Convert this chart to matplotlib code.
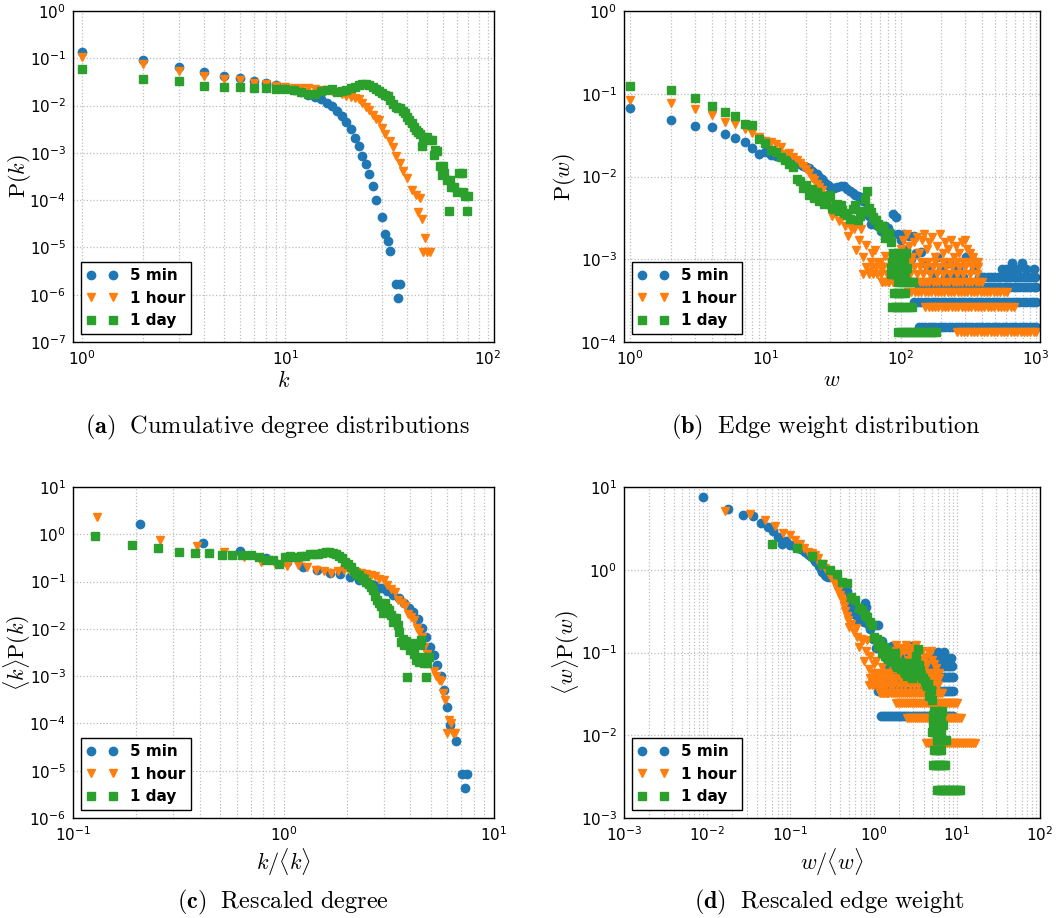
import matplotlib.pyplot as plt

plt.rcParams['mathtext.fontset'] = 'cm'

labels = ['5 min', '1 hour', '1 day']
colors = ['#1f77b4', '#ff7f0e', '#2ca02c']
markers = ['o', 'v', 's']

# ---------------- (a) cumulative degree distributions ----------------
k_5min = [1, 2, 3, 4, 5, 6, 7, 8, 9, 10, 11, 12, 13, 14, 15, 16, 17, 18, 19, 20,
          21, 22, 23, 24, 25, 26, 27, 28, 30, 31, 32, 33, 35, 36, 37]
pk_5min = [0.136, 0.091, 0.066, 0.051, 0.042, 0.038, 0.033, 0.030, 0.027, 0.024,
           0.021, 0.019, 0.017, 0.0153, 0.0141, 0.0114, 0.0098, 0.0078, 0.0060, 0.0046,
           0.0032, 0.0021, 0.0014, 0.00087, 0.00057, 0.00035, 0.0002, 0.0001, 4.5e-5, 1.9e-5,
           1.4e-5, 8.6e-6, 1.7e-6, 8.6e-7, 1.7e-6]

k_1hour = [1, 2, 3, 4, 5, 6, 7, 8, 9, 10, 11, 12, 13, 14, 15, 16, 17, 18, 19, 20,
           21, 22, 23, 24, 25, 26, 27, 28, 29, 30, 31, 33, 34, 35, 37, 38, 40, 42, 44, 46,
           45, 47, 49, 48, 50, 52]
pk_1hour = [0.107, 0.074, 0.054, 0.042, 0.037, 0.034, 0.030, 0.028, 0.026, 0.025,
            0.024, 0.023, 0.023, 0.022, 0.021, 0.021, 0.020, 0.019, 0.018, 0.0158,
            0.0150, 0.0145, 0.0135, 0.0115, 0.0094, 0.0080, 0.0062, 0.0051, 0.0049, 0.0033,
            0.0025, 0.0018, 0.0013, 0.00085, 0.0006, 0.00042, 0.00029, 0.00016, 0.00013, 0.00011,
            5.7e-5, 4e-5, 1.6e-5, 8e-6, 8e-6, 8e-6]

k_1day = [1, 2, 3, 4, 5, 6, 7, 8, 9, 10, 11, 12, 13, 14, 15, 16, 17, 18, 19, 20,
          21, 22, 23, 24, 25, 26, 27, 28, 29, 30, 31, 32, 33, 34, 35, 36, 37, 38, 39, 40,
          41, 42, 43, 44, 45, 46, 47, 48, 50, 51, 53, 54, 55, 56, 58, 59, 60, 61, 63, 64,
          65, 66, 68, 70, 72, 74, 75, 77, 79, 80]
pk_1day = [0.058, 0.037, 0.033, 0.026, 0.025, 0.0245, 0.023, 0.0235, 0.022, 0.022,
           0.0215, 0.0195, 0.018, 0.018, 0.0205, 0.021, 0.022, 0.0195, 0.0205, 0.021,
           0.024, 0.025, 0.027, 0.028, 0.028, 0.027, 0.025, 0.022, 0.020, 0.0187,
           0.017, 0.016, 0.013, 0.011, 0.0095, 0.0090, 0.0087, 0.0075, 0.0068, 0.0058,
           0.0049, 0.0042, 0.0036, 0.0031, 0.0028, 0.0025, 0.0014, 0.0022, 0.0022, 0.0019,
           0.0019, 0.0009, 0.00115, 0.0011, 0.00053, 0.00034, 0.00053, 0.00037, 0.00027, 6e-5,
           0.00027, 0.00019, 0.00019, 0.00015, 0.00037, 0.00037, 0.00015, 0.00012, 6e-5, 0.00012]

# ---------------- (c) rescaled degree ----------------
kmean = [4.83, 7.7, 15.75]
kc_5min = [1, 2, 3, 4, 5, 6, 7, 8, 9, 10, 11, 12, 13, 14, 15, 16, 17, 18, 19, 20,
           21, 22, 23, 24, 25, 26, 27, 28, 29, 30, 32, 34, 35, 36]
kpk_5min = [1.63, 0.67, 0.45, 0.32, 0.26, 0.20, 0.18, 0.153, 0.144, 0.123,
            0.107, 0.094, 0.084, 0.072, 0.062, 0.052, 0.044, 0.035, 0.028, 0.023,
            0.016, 0.0105, 0.0068, 0.0042, 0.0028, 0.0017, 0.001, 0.00051, 0.00022, 9.3e-5,
            4.3e-5, 8.5e-6, 4.3e-6, 8.5e-6]

kc_1hour = [1, 2, 3, 4, 5, 6, 7, 8, 9, 10, 11, 12, 13, 14, 15, 16, 17, 18, 19, 20,
            21, 22, 23, 24, 25, 26, 27, 28, 29, 30, 31, 32, 33, 34, 35, 36, 37, 38, 40, 41,
            42, 43, 44, 45, 46, 47, 48, 49, 50]
kpk_1hour = [2.33, 0.77, 0.57, 0.43, 0.33, 0.26, 0.24, 0.21, 0.22, 0.20,
             0.18, 0.17, 0.153, 0.17, 0.175, 0.165, 0.16, 0.155, 0.148, 0.14,
             0.13, 0.116, 0.11, 0.084, 0.07, 0.061, 0.041, 0.036, 0.03, 0.021,
             0.018, 0.0155, 0.0102, 0.0085, 0.0068, 0.0042, 0.003, 0.0022, 0.00126, 0.001,
             0.00083, 0.0008, 0.00045, 0.00032, 6.3e-5, 0.00012, 0.0001, 6.3e-5, 6.3e-5]

kc_1day = [2, 3, 4, 5, 6, 7, 8, 9, 10, 11, 12, 13, 14, 15, 16, 17, 18, 19, 20, 21,
           22, 23, 24, 25, 26, 27, 28, 29, 30, 31, 32, 33, 34, 35, 36, 37, 38, 39, 40, 41,
           42, 43, 44, 45, 46, 47, 48, 49, 50, 51, 52, 53, 54, 55, 56, 57, 58, 59, 60, 61,
           62, 63, 64, 65, 66, 67, 68, 69, 70, 71, 72, 73, 74, 75, 76, 77]
kpk_1day = [0.92, 0.59, 0.52, 0.42, 0.40, 0.40, 0.36, 0.36, 0.36, 0.36,
            0.33, 0.29, 0.28, 0.24, 0.33, 0.35, 0.33, 0.35, 0.34, 0.39,
            0.38, 0.39, 0.41, 0.42, 0.42, 0.41, 0.38, 0.35, 0.31, 0.26,
            0.23, 0.20, 0.17, 0.148, 0.14, 0.12, 0.111, 0.10, 0.091, 0.078,
            0.066, 0.05, 0.041, 0.035, 0.030, 0.022, 0.035, 0.027, 0.025, 0.02,
            0.014, 0.0166, 0.017, 0.012, 0.0087, 0.0054, 0.006, 0.0046, 0.0055, 0.00098,
            0.0045, 0.0036, 0.005, 0.0036, 0.003, 0.0022, 0.0025, 0.002, 0.0045, 0.0058,
            0.0024, 0.0019, 0.0025, 0.00098, 0.0019, 0.0025]

# ---------------- (b) edge weight distribution ----------------
# head: weights with directly read probabilities
w_5min = [1, 2, 3, 4, 5, 6, 7, 8, 9, 10, 11, 12, 13, 14, 15, 16, 17, 18, 19, 20,
          21, 22, 23, 24, 25, 26, 27, 28, 29, 30, 32, 34, 36, 38, 40, 42, 44, 46, 48, 50,
          53, 56, 58, 60, 63, 66, 69, 72, 76, 80, 85, 88, 92, 96, 100, 105, 110, 115, 120, 125, 130]
pw_5min = [0.068, 0.048, 0.041, 0.040, 0.033, 0.029, 0.026, 0.022, 0.0185, 0.020,
           0.018, 0.0178, 0.017, 0.0165, 0.016, 0.0155, 0.0145, 0.014, 0.0135, 0.013,
           0.0125, 0.0115, 0.011, 0.0107, 0.010, 0.0092, 0.0085, 0.0081, 0.0078, 0.0075,
           0.0072, 0.0074, 0.0077, 0.0077, 0.0070, 0.0066, 0.0064, 0.0060, 0.0058, 0.0056,
           0.0050, 0.0040, 0.0033, 0.0027, 0.0030, 0.0026, 0.0026, 0.0022, 0.0025, 0.0024,
           0.0021, 0.0035, 0.0032, 0.0020, 0.0017, 0.0020, 0.0013, 0.0019, 0.0010, 0.0019, 0.0012]

w_1hour = [1, 2, 3, 4, 5, 6, 7, 8, 9, 10, 11, 12, 13, 14, 15, 16, 17, 18, 19, 20,
           21, 22, 23, 24, 25, 26, 27, 28, 29, 30, 31, 33, 35, 37, 39, 41, 43, 45, 47, 49,
           51, 53, 55, 58, 61, 65, 68, 70, 73, 76, 80, 84, 88, 92, 96]
pw_1hour = [0.085, 0.077, 0.065, 0.056, 0.046, 0.043, 0.037, 0.034, 0.030, 0.027,
            0.026, 0.0245, 0.023, 0.0186, 0.019, 0.017, 0.016, 0.0145, 0.0135, 0.0123,
            0.011, 0.0095, 0.0090, 0.0081, 0.0075, 0.0068, 0.0060, 0.0052, 0.0045, 0.0040,
            0.0033, 0.0036, 0.0029, 0.0032, 0.0025, 0.0019, 0.0024, 0.0023, 0.0013, 0.0017,
            0.0023, 0.00105, 0.0015, 0.0007, 0.0012, 0.0013, 0.0009, 0.00083, 0.00053, 0.0011,
            0.00053, 0.00093, 0.00053, 0.00053, 0.0012]

w_1day = [1, 2, 3, 4, 5, 6, 7, 8, 9, 10, 11, 12, 13, 14, 15, 16, 17, 18, 19, 20,
          21, 22, 23, 24, 25, 26, 27, 28, 29, 30, 31, 32, 33, 34, 35, 36, 37, 38, 40, 42,
          44, 46, 48, 50, 52, 54, 56, 58, 60, 62, 64, 66, 68, 70, 72, 74, 76, 78, 80, 82, 84]
pw_1day = [0.123, 0.110, 0.089, 0.071, 0.060, 0.054, 0.043, 0.042, 0.028, 0.0257,
           0.021, 0.0195, 0.017, 0.016, 0.014, 0.0129, 0.0093, 0.0088, 0.0072, 0.0080,
           0.0060, 0.0070, 0.0055, 0.0065, 0.0050, 0.0058, 0.0046, 0.0052, 0.0056, 0.0059,
           0.0042, 0.0040, 0.0044, 0.0046, 0.0038, 0.0045, 0.0039, 0.0036, 0.0034, 0.0031,
           0.0040, 0.0045, 0.0030, 0.0033, 0.0038, 0.0054, 0.0067, 0.0042, 0.0037, 0.0032,
           0.0030, 0.0030, 0.0027, 0.0025, 0.0024, 0.0025, 0.0018, 0.0020, 0.0021, 0.0021, 0.0016]

# tail: weights with small edge counts, P = count / number of edges
n_edges = [6580, 7520, 7580]

tail_w_5min = [136, 144, 152, 161, 170, 180, 191, 202, 214, 227, 240, 254, 269, 285, 302, 320,
               339, 359, 380, 402, 426, 451, 478, 506, 536, 568, 601, 637, 675, 715, 757, 802,
               849, 899, 952, 998,
               126, 134, 142, 151, 160, 169, 179, 190, 201, 213, 226, 239, 253, 268, 284, 301,
               319, 338, 358, 379, 401, 425, 450, 477, 505, 535, 566, 600, 635, 673, 712, 754,
               799, 846, 896, 949, 997,
               137, 145, 154, 163, 173, 183, 194, 205, 217, 230, 244, 258, 273, 289, 306, 324,
               343, 363, 385, 408, 432, 457, 484, 513, 543, 575, 609, 645, 683, 724, 766, 811,
               859, 910, 963, 999,
               392, 415, 440, 466, 493, 522, 553, 586, 620, 657, 696, 737, 780, 826, 875, 927, 980,
               140, 150, 158, 172, 186, 198, 212, 228, 246, 266, 288, 303, 330, 348, 376, 560,
               600, 650, 670, 733, 790, 850, 960]
tail_n_5min = [1] * 36 + [2] * 37 + [3] * 36 + [4] * 17 + \
              [8, 6, 5, 4, 7, 5, 4, 6, 4, 5, 4, 7, 7, 5, 4, 5, 5, 5, 6, 5, 6, 5, 5]

tail_w_1hour = [262, 278, 294, 311, 329, 348, 368, 390, 412, 436, 462, 489, 517, 547, 579, 613,
                648, 686, 726, 768, 813, 860, 910, 963, 1000,
                152, 161, 170, 180, 190, 201, 213, 225, 238, 252, 266, 282, 298, 315, 333, 352,
                372, 394, 416, 440, 465, 492, 520, 550, 582, 615, 650, 688,
                114, 120, 127, 134, 142, 150, 159, 168, 178, 188, 199, 210, 222, 235, 249, 263,
                278, 294, 311, 329, 348, 368, 389, 412, 435, 460, 487, 515, 545, 576, 610,
                73, 77, 82, 87, 92, 98, 104, 110, 116, 123, 130, 138, 146, 154, 163, 173,
                183, 193, 204, 216, 229, 242, 256, 271, 286, 303, 320, 339, 358, 379, 400,
                53, 58, 62, 67, 72, 79, 86, 95, 105, 118, 132, 147, 165, 185, 207, 232,
                260, 290, 325, 365,
                55, 61, 66, 74, 82, 91, 101, 112, 125, 139, 155, 173, 193, 215, 240, 268,
                299, 334, 372,
                60, 70, 85, 100, 120, 140, 160, 180, 205, 230, 260, 290, 320, 345, 370,
                100, 104, 108, 112, 116, 121, 126, 131, 137, 143, 149, 156, 163, 170, 178, 186,
                195, 204, 214, 224, 235, 246, 258, 270, 283, 296, 310, 325, 340]
tail_n_1hour = [1] * 25 + [2] * 28 + [3] * 31 + [4] * 31 + [5] * 20 + [6] * 19 + [7] * 15 + \
               [10, 13, 9, 15, 11, 8, 12, 14, 9, 13, 15, 10, 12, 14, 8, 11, 15, 9, 12, 10,
                13, 8, 11, 9, 12, 13, 10, 9, 8]

tail_w_1day = [96, 101, 106, 111, 117, 123, 129, 136, 143, 150, 158, 166, 174, 183,
               86, 90, 94, 99, 104, 109, 115, 121,
               89, 93, 97, 102, 108,
               95, 100, 105, 111, 117, 124,
               84, 88, 92, 97, 102, 107,
               85, 90, 95, 104, 112,
               86, 91, 98, 106,
               87, 93, 100,
               88, 96, 110]
tail_n_1day = [1] * 14 + [2] * 8 + [3] * 5 + [4] * 6 + [5] * 6 + [6] * 5 + [7] * 4 + [8] * 3 + [9] * 3

# mean edge weight of each network, used for panel (d)
wmean = [112, 61, 16.6]


def weight_series(head_w, head_p, tail_w, tail_n, n):
    w = list(head_w) + list(tail_w)
    p = list(head_p) + [c / n for c in tail_n]
    return w, p


wb = []
pb = []
for hw, hp, tw, tn, n in [(w_5min, pw_5min, tail_w_5min, tail_n_5min, n_edges[0]),
                          (w_1hour, pw_1hour, tail_w_1hour, tail_n_1hour, n_edges[1]),
                          (w_1day, pw_1day, tail_w_1day, tail_n_1day, n_edges[2])]:
    w, p = weight_series(hw, hp, tw, tn, n)
    wb.append(w)
    pb.append(p)

fig = plt.figure(figsize=(10.6, 9.18), dpi=100)

W, H = 1060.0, 918.0


def make_axes(x0, y0, x1, y1):
    return fig.add_axes([x0 / W, 1 - y1 / H, (x1 - x0) / W, (y1 - y0) / H])


ax_a = make_axes(73, 11, 494, 342)
ax_b = make_axes(624, 11, 1040, 342)
ax_c = make_axes(73, 487, 494, 818)
ax_d = make_axes(624, 487, 1040, 818)

ka = [k_5min, k_1hour, k_1day]
pka = [pk_5min, pk_1hour, pk_1day]
for i in range(3):
    ax_a.plot(ka[i], pka[i], linestyle='none', marker=markers[i], color=colors[i], ms=6,
              label=labels[i])

kc = [kc_5min, kc_1hour, kc_1day]
kpk = [kpk_5min, kpk_1hour, kpk_1day]
for i in range(3):
    x = [k / kmean[i] for k in kc[i]]
    ax_c.plot(x, kpk[i], linestyle='none', marker=markers[i], color=colors[i], ms=6,
              label=labels[i])

for i in range(3):
    ax_b.plot(wb[i], pb[i], linestyle='none', marker=markers[i], color=colors[i], ms=6,
              label=labels[i])
    ax_d.plot([w / wmean[i] for w in wb[i]], [p * wmean[i] for p in pb[i]],
              linestyle='none', marker=markers[i], color=colors[i], ms=6, label=labels[i])


def style(ax, xlim, ylim, yexp, xlabel, ylabel, ylab_x):
    ax.set_xscale('log')
    ax.set_yscale('log')
    ax.set_xlim(*xlim)
    ax.set_ylim(*ylim)
    ax.set_yticks([10.0 ** e for e in yexp])
    ax.grid(True, which='both', axis='x', linestyle=':', color='#bdbdbd', linewidth=0.9)
    ax.grid(True, which='major', axis='y', linestyle=':', color='#bdbdbd', linewidth=0.9)
    ax.tick_params(which='both', length=0, labelsize=11, pad=5)
    for s in ax.spines.values():
        s.set_color('black')
        s.set_linewidth(1.0)
    ax.set_xlabel(xlabel, fontsize=16, labelpad=2)
    ax.set_ylabel(ylabel, fontsize=16)
    ax.yaxis.set_label_coords(ylab_x, 0.5)
    leg = ax.legend(loc='lower left', numpoints=2, prop={'weight': 'bold', 'size': 11},
                    fancybox=False, edgecolor='black', framealpha=1)
    leg.get_frame().set_linewidth(1.0)


style(ax_a, (0.9, 107), (1e-7, 1), range(-7, 1), r'$k$', r'$\mathrm{P}(k)$', -0.095)
style(ax_b, (0.9, 1070), (1e-4, 1), range(-4, 1), r'$w$', r'$\mathrm{P}(w)$', -0.11)
style(ax_c, (0.1, 10), (1e-6, 10), range(-6, 2), r'$k/\langle k\rangle$',
      r'$\langle k\rangle\mathrm{P}(k)$', -0.095)
style(ax_d, (1e-3, 1e2), (1e-3, 10), range(-3, 2), r'$w/\langle w\rangle$',
      r'$\langle w\rangle\mathrm{P}(w)$', -0.10)

captions = [(277, 427, r'$\mathbf{(a)}\ \ \mathrm{Cumulative\ degree\ distributions}$'),
            (826, 427, r'$\mathbf{(b)}\ \ \mathrm{Edge\ weight\ distribution}$'),
            (283, 902, r'$\mathbf{(c)}\ \ \mathrm{Rescaled\ degree}$'),
            (830, 902, r'$\mathbf{(d)}\ \ \mathrm{Rescaled\ edge\ weight}$')]
for x, y, t in captions:
    fig.text(x / W, 1 - y / H, t, ha='center', va='center', fontsize=17.5)

fig.savefig('out.png', dpi=100)
